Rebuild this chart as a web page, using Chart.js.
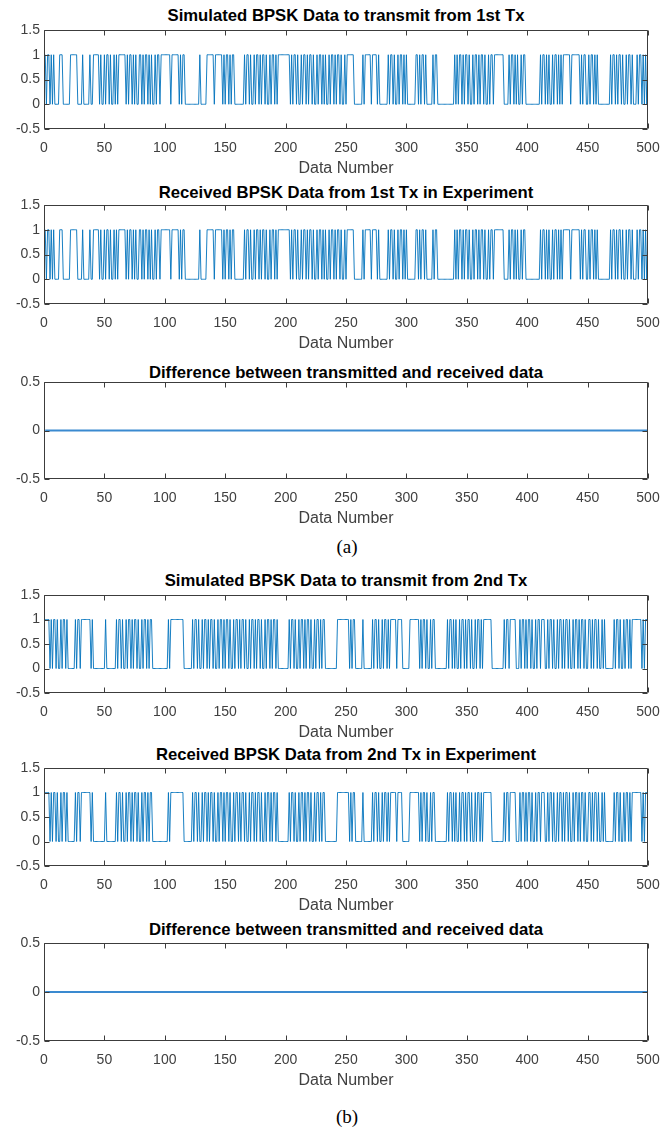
<!DOCTYPE html>
<html><head><meta charset="utf-8">
<script src="https://cdn.jsdelivr.net/npm/chart.js@4.4.1/dist/chart.umd.min.js"></script>
<style>
html,body{margin:0;padding:0;background:#fff;}
#root{position:relative;width:661px;height:1131px;overflow:hidden;background:#fff;}
canvas{position:absolute;left:0;}
.ttl{position:absolute;left:44px;width:604px;text-align:center;font:bold 16.7px "Liberation Sans",Arial,sans-serif;color:#000;line-height:20px;white-space:nowrap;}
.cap{position:absolute;left:0;width:694px;text-align:center;font:19px "Liberation Serif","Times New Roman",serif;line-height:24px;color:#000;}
</style></head><body><div id="root"></div>
<script>
// ---- data ----
const xTicks = [0, 50, 100, 150, 200, 250, 300, 350, 400, 450, 500];
const yTicksBinary = [-0.5, 0, 0.5, 1, 1.5];
const yTicksDiff = [-0.5, 0, 0.5];

// bits read (approximately) from the reference, runs separated by spaces
const tx1Bits = `
10110101 0000 111 000000 111111 0000100000 1001111101001
01101001010 111111 010110101001101011010100101101 111
11110111111 010110 00000000000 1 00000 1111110111111 010
11010110 0000000 10110100101101011010010110101 111111
111 0101101001 0110101101 0010110101 0010110101 1010010
111111 0000000 101 11110111101 0000000 1011010010110101
0000000 110101101 00000 10110 0000000000000 10101101011
01001011010110100101101 1111111 0000 10110101001011 00
0000000000 1011010100101101010 11111101111111 0101100
10110101 0000000000 1011010110100101101 000 1011010101
`;
const rx1Bits = `
10110101 0000 111 000000 111111 0000100000 1001111101001
01101001010 111111 010110101001101011010100101101 111
11110111111 010110 00000000000 1 00000 1111110111111 010
11010110 0000000 10110100101101011010010110101 111111
111 0101101001 0110101101 0010110101 0010110101 1010010
111111 0000000 101 11110111101 0000000 1011010010110101
0000000 110101101 00000 10110 0000000000000 10101101011
01001011010110100101101 1111111 0000 10110101001011 00
0000000000 1011010100101101010 11111101111111 0101100
10110101 0000000000 1011010110100101101 000 1011010101
`;
const tx2Bits = `
1111 0101101001011010 00000 101101 1111111 01 0000000000
1 00000000 101101001011010110100101101011 00000000000
00 10 11111111111 0000000 1011010010110101101001011010
1101001011 0101101001 0110101101 0010110101 101 0000000
00 1011010010110101101001011010110 000000000 11111111
11 01011 000000 1 0000000 101101001011010 1111101111 0000
00 11111111 01011010010110 000000000 10110101001011010
11010010110101 111111 0000000000 101101 1111 000 1011010
1101001011 0111001011 0100101101 0110100101 1010110100
11010110100101 0000000 1011010010110101 1111111 010111
`;
const rx2Bits = `
1111 0101101001011010 00000 101101 1111111 01 0000000000
1 00000000 101101001011010110100101101011 00000000000
00 10 11111111111 0000000 1011010010110101101001011010
1101001011 0101101001 0110101101 0010110101 101 0000000
00 1011010010110101101001011010110 000000000 11111111
11 01011 000000 1 0000000 101101001011010 1111101111 0000
00 11111111 01011010010110 000000000 10110101001011010
11010010110101 111111 0000000000 101101 1111 000 1011010
1101001011 0111001011 0100101101 0110100101 1010110100
11010110100101 0000000 1011010010110101 1111111 010111
`;

function bits(s) { return s.replace(/\s/g, '').split('').map(Number); }
const tx1 = bits(tx1Bits), rx1 = bits(rx1Bits);
const tx2 = bits(tx2Bits), rx2 = bits(rx2Bits);
const diff1 = tx1.map((v, i) => v - rx1[i]);
const diff2 = tx2.map((v, i) => v - rx2[i]);

// ---- layout ----
const FONT = '"Liberation Sans", Arial, Helvetica, sans-serif';
const panels = [
  { title: 'Simulated BPSK Data to transmit from 1st Tx', values: tx1, yTicks: yTicksBinary, top: 30, bottom: 129, titleY: 16 },
  { title: 'Received BPSK Data from 1st Tx in Experiment', values: rx1, yTicks: yTicksBinary, top: 205, bottom: 304, titleY: 193 },
  { title: 'Difference between transmitted and received data', values: diff1, yTicks: yTicksDiff, top: 382, bottom: 479, titleY: 373 },
  { title: 'Simulated BPSK Data to transmit from 2nd Tx', values: tx2, yTicks: yTicksBinary, top: 595, bottom: 693, titleY: 581 },
  { title: 'Received BPSK Data from 2nd Tx in Experiment', values: rx2, yTicks: yTicksBinary, top: 768, bottom: 866, titleY: 755 },
  { title: 'Difference between transmitted and received data', values: diff2, yTicks: yTicksDiff, top: 943, bottom: 1041, titleY: 930 }
];

const boxTicks = {
  id: 'boxTicks',
  afterDatasetsDraw(chart) {
    const { ctx, chartArea: a, scales: { x, y } } = chart;
    ctx.save();
    ctx.strokeStyle = '#3c3c3c';
    ctx.lineWidth = 1;
    const L = Math.round(a.left) + 0.5, R = Math.round(a.right) - 0.5;
    const T = Math.round(a.top) + 0.5, B = Math.round(a.bottom) - 0.5;
    ctx.beginPath();
    ctx.rect(L, T, R - L, B - T);
    x.ticks.forEach(t => {
      const px = Math.round(x.getPixelForValue(t.value)) + 0.5;
      ctx.moveTo(px, B); ctx.lineTo(px, B - 5);
      ctx.moveTo(px, T); ctx.lineTo(px, T + 5);
    });
    y.ticks.forEach(t => {
      const py = Math.round(y.getPixelForValue(t.value)) + 0.5;
      ctx.moveTo(L, py); ctx.lineTo(L + 5, py);
      ctx.moveTo(R, py); ctx.lineTo(R - 5, py);
    });
    ctx.stroke();
    ctx.restore();
  }
};

const root = document.getElementById('root');
const PADTOP = 10, XAXIS_H = 50;

panels.forEach(p => {
  const t = document.createElement('div');
  t.className = 'ttl';
  t.style.top = (p.titleY - 10) + 'px';
  t.textContent = p.title;
  root.appendChild(t);

  const cv = document.createElement('canvas');
  const H = PADTOP + (p.bottom - p.top) + XAXIS_H;
  cv.width = 661; cv.height = H;
  cv.style.top = (p.top - PADTOP) + 'px';
  root.appendChild(cv);

  const yMin = p.yTicks[0], yMax = p.yTicks[p.yTicks.length - 1];
  const isDiff = p.yTicks === yTicksDiff;
  new Chart(cv, {
    type: 'line',
    data: {
      datasets: [{
        data: p.values.map((v, i) => ({ x: i + 1, y: v })),
        borderColor: isDiff ? '#3a8ad0' : 'rgba(0,114,189,0.9)',
        borderWidth: isDiff ? 2 : 1,
        pointRadius: 0,
        tension: 0,
        fill: false
      }]
    },
    options: {
      responsive: false,
      animation: false,
      devicePixelRatio: 1,
      layout: { padding: { top: PADTOP, right: 13, left: 0, bottom: 0 } },
      plugins: { legend: { display: false }, tooltip: { enabled: false }, title: { display: false } },
      scales: {
        x: {
          type: 'linear', min: 0, max: 500,
          afterBuildTicks: s => { s.ticks = xTicks.map(v => ({ value: v })); },
          afterFit: s => { s.height = XAXIS_H; s.paddingLeft = 0; s.paddingRight = 0; },
          grid: { display: false, drawTicks: false },
          border: { display: false },
          ticks: { padding: 11, color: '#404040', font: { family: FONT, size: 14 }, maxRotation: 0, autoSkip: false, callback: v => String(v) },
          title: { display: true, text: 'Data Number', color: '#404040', font: { family: FONT, size: 16 }, padding: { top: 0, bottom: 1 } }
        },
        y: {
          type: 'linear', min: yMin, max: yMax,
          afterBuildTicks: s => { s.ticks = p.yTicks.map(v => ({ value: v })); },
          afterFit: s => { s.width = 44; s.paddingTop = 0; s.paddingBottom = 0; },
          grid: { display: false, drawTicks: false },
          border: { display: false },
          ticks: { padding: 4, color: '#404040', font: { family: FONT, size: 14 }, autoSkip: false, callback: v => String(v) }
        }
      }
    },
    plugins: [boxTicks]
  });
});

[['(a)', 547], ['(b)', 1117]].forEach(([txt, y]) => {
  const d = document.createElement('div');
  d.className = 'cap';
  d.style.top = (y - 12) + 'px';
  d.textContent = txt;
  root.appendChild(d);
});
</script></body></html>
